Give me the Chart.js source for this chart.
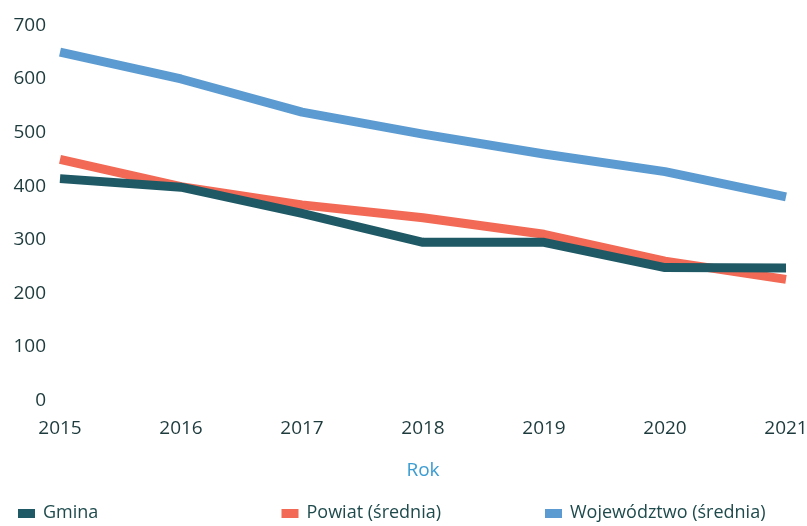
<!DOCTYPE html>
<html>
<head>
<meta charset="utf-8">
<script src="https://cdn.jsdelivr.net/npm/chart.js@4/dist/chart.umd.min.js"></script>
<style>
  html, body { margin: 0; padding: 0; background: #fff; }
  #wrap { width: 807px; height: 526px; position: relative; }
</style>
</head>
<body>
<div id="wrap"><canvas id="c"></canvas></div>
<script>
// values
const years = ["2015", "2016", "2017", "2018", "2019", "2020", "2021"];
const gmina = [414, 398, 349, 295, 295, 248, 247];
const powiat = [450, 399, 365, 341, 310, 260, 226];
const wojewodztwo = [650, 600, 538, 497, 460, 427, 380];
const yTicks = [0, 100, 200, 300, 400, 500, 600, 700];

const FONT = "'Open Sans', 'Noto Sans', sans-serif";
const TEXT = "#1d3a3c";

// legend is spread over three equal columns under the chart, so draw it by hand
const spreadLegend = {
  id: "spreadLegend",
  afterDraw(chart) {
    const ctx = chart.ctx;
    const y = 513;
    ctx.save();
    ctx.font = "18px " + FONT;
    ctx.textBaseline = "middle";
    chart.data.datasets.forEach((ds, i) => {
      const x = 18 + i * 263.5;
      ctx.fillStyle = ds.borderColor;
      ctx.fillRect(x, y - 4, 17, 9);
      ctx.fillStyle = "#1e4a4c";
      ctx.fillText(ds.label, x + 25, y);
    });
    ctx.restore();
  }
};

new Chart(document.getElementById("c"), {
  type: "line",
  data: {
    labels: years,
    datasets: [
      { label: "Gmina", data: gmina, borderColor: "#1f5965" },
      { label: "Powiat (średnia)", data: powiat, borderColor: "#f26a55" },
      { label: "Województwo (średnia)", data: wojewodztwo, borderColor: "#5c9bd1" }
    ].map(d => ({ ...d, borderWidth: 9, pointRadius: 0, tension: 0, fill: false, borderCapStyle: "butt", borderJoinStyle: "round" }))
  },
  options: {
    responsive: true,
    maintainAspectRatio: false,
    animation: false,
    layout: { padding: { top: 14, left: 10, right: 0, bottom: 40 } },
    plugins: { legend: { display: false }, tooltip: { enabled: false } },
    scales: {
      x: {
        offset: false,
        grid: { display: false, drawTicks: false },
        border: { display: false },
        ticks: { color: TEXT, font: { family: FONT, size: 19 }, padding: 17, maxRotation: 0, autoSkip: false },
        title: { display: true, text: "Rok", color: "#3b9cd2", font: { family: FONT, size: 19 }, padding: { top: 2, bottom: 4 } },
        // year labels hang over both ends, as in the original
        afterFit: s => { s.paddingLeft = 0; s.paddingRight = 21; }
      },
      y: {
        min: 0,
        max: 700,
        afterBuildTicks: s => { s.ticks = yTicks.map(v => ({ value: v })); },
        grid: { display: false, drawTicks: false },
        border: { display: false },
        ticks: { color: TEXT, font: { family: FONT, size: 19 }, padding: 14 },
        afterFit: s => { s.width = 50; }
      }
    }
  },
  plugins: [spreadLegend]
});
</script>
</body>
</html>
